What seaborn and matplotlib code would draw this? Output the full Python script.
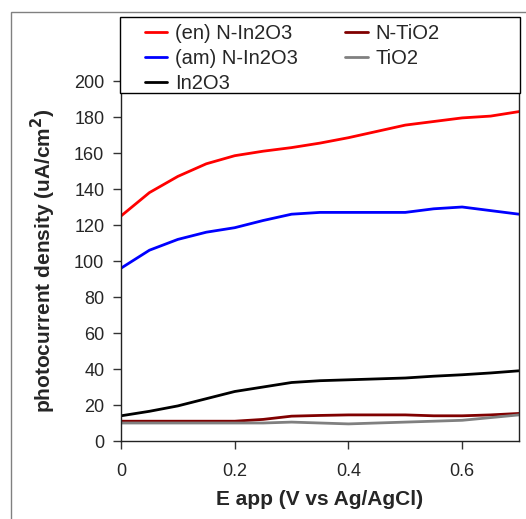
import matplotlib
matplotlib.use("Agg")
import matplotlib.pyplot as plt
import seaborn as sns
import numpy as np
import pandas as pd

# ── Data ────────────────────────────────────────────────────────────────────
e_app = [0.0, 0.05, 0.1, 0.15, 0.2, 0.25, 0.3, 0.35, 0.4, 0.45, 0.5, 0.55, 0.6, 0.65, 0.7]

en_n_in2o3 = [125, 138, 147, 154, 158.5, 161, 163, 165.5, 168.5, 172, 175.5, 177.5, 179.5, 180.5, 183]
am_n_in2o3 = [96, 106, 112, 116, 118.5, 122.5, 126, 127, 127, 127, 127, 129, 130, 128, 126]
in2o3      = [14, 16.5, 19.5, 23.5, 27.5, 30, 32.5, 33.5, 34, 34.5, 35, 36, 36.8, 37.8, 39]
n_tio2     = [11, 11, 11, 11, 11, 12, 13.8, 14.2, 14.5, 14.5, 14.5, 14, 14, 14.5, 15.3]
tio2       = [10, 10, 10, 10, 10, 10, 10.5, 10, 9.5, 10, 10.5, 11, 11.5, 13, 14.5]

series_names = ["(en) N-In2O3", "(am) N-In2O3", "In2O3", "N-TiO2", "TiO2"]
series_vals  = [en_n_in2o3, am_n_in2o3, in2o3, n_tio2, tio2]
colors       = ["#ff0000", "#0000ff", "#000000", "#800000", "#808080"]

df = pd.DataFrame({
    "E": np.tile(e_app, len(series_names)),
    "J": np.concatenate(series_vals),
    "sample": np.repeat(series_names, len(e_app)),
})

# ── Style ───────────────────────────────────────────────────────────────────
sns.set_style("ticks")
plt.rcParams['font.family'] = ['Liberation Sans', 'DejaVu Sans']

W, H = 526, 519
fig = plt.figure(figsize=(W / 100, H / 100), dpi=100)
ax = fig.add_axes([121 / W, 1 - 441 / H, 398 / W, 360 / H])

# outer chart frame (only left/top edges fall inside the picture)
fig.patches.append(plt.Rectangle((11 / W, -0.05), 1.1, 1 - 12 / H + 0.05,
                                 transform=fig.transFigure, fill=False,
                                 edgecolor="#808080", linewidth=1.0))

sns.lineplot(data=df, x="E", y="J", hue="sample", hue_order=series_names,
             palette=colors, linewidth=2.0, ax=ax, legend=False)

ax.set_xlim(0, 0.7)
ax.set_ylim(0, 200)
ax.set_xticks([0, 0.2, 0.4, 0.6])
ax.set_xticklabels(["0", "0.2", "0.4", "0.6"])
ax.set_yticks(range(0, 201, 20))
ax.tick_params(axis="both", labelsize=13, direction="out", length=6, width=1, color="#333333")
ax.tick_params(axis="x", pad=10)
ax.tick_params(axis="y", pad=6)

for side in ["left", "bottom", "right"]:
    ax.spines[side].set_visible(True)
    ax.spines[side].set_color("#222222")
    ax.spines[side].set_linewidth(1.0)
ax.spines["top"].set_visible(False)

ax.set_xlabel("E app (V vs Ag/AgCl)", fontsize=15, fontweight="bold")
ax.set_ylabel(r"photocurrent density (uA/cm$^{\mathbf{2}}$)", fontsize=15,
              fontweight="bold")
ax.xaxis.set_label_coords(0.5, (441 - 490) / 360)
ax.yaxis.set_label_coords((58 - 121) / 398, 0.5)

# legend box sitting over the top of the plot
box = plt.Rectangle((-1 / 398, (441 - 93) / 360), 400 / 398, 76 / 360,
                    transform=ax.transAxes, facecolor="white", edgecolor="black",
                    linewidth=1.0, clip_on=False, zorder=4)
ax.add_patch(box)

handles = [plt.Line2D([], [], color=c, linewidth=2.0) for c in colors]
leg = ax.legend(handles, series_names, ncol=2, loc="upper left",
                bbox_to_anchor=((145 - 121) / 398, (441 - 24) / 360),
                frameon=False, fontsize=14.5,
                handlelength=1.1, handletextpad=0.4, labelspacing=0.3,
                borderaxespad=0, borderpad=0, columnspacing=2.35)
leg.set_zorder(5)

fig.savefig("out.png", dpi=100)
